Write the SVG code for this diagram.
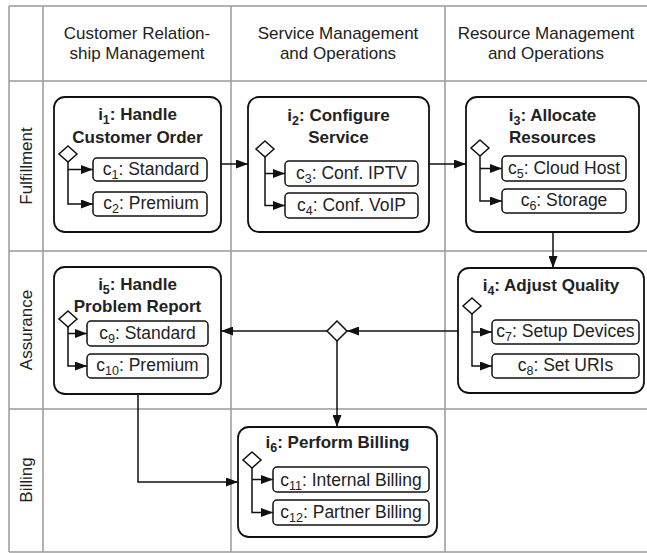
<svg xmlns="http://www.w3.org/2000/svg" width="647" height="553" viewBox="0 0 647 553">
<style>
text{font-family:"Liberation Sans",Arial,sans-serif;font-size:17px;fill:#222}
.hdr{text-anchor:middle}
.lane{text-anchor:middle}
.ttl{font-weight:bold;text-anchor:middle}
.ct{text-anchor:middle;font-size:17.5px}
.sub{font-size:12.5px}
.grid{stroke:#9a9a9a;stroke-width:1.5;fill:none}
.node{fill:#fff;stroke:#111;stroke-width:1.8}
.cbox{fill:#fff;stroke:#111;stroke-width:1.5}
.gw{fill:#fff;stroke:#111;stroke-width:1.5}
.ln{fill:none;stroke:#111;stroke-width:1.5}
</style>
<defs>
<marker id="arr" viewBox="0 0 12 9" refX="12" refY="4.5" markerWidth="12" markerHeight="9" markerUnits="userSpaceOnUse" orient="auto">
<path d="M0,0 L12,4.5 L0,9 z" fill="#111"/>
</marker>
</defs>
<rect width="647" height="553" fill="#fff"/>
<g id="grid">
<path class="grid" d="M9,6 H647 M9,81 H647 M9,251 H647 M9,409 H647 M9,552 H647 M9,6 V552 M43,6 V552 M231,6 V552 M445,6 V552"/>
<text class="hdr" x="137" y="39">Customer Relation-</text>
<text class="hdr" x="137" y="59">ship Management</text>
<text class="hdr" x="338" y="39">Service Management</text>
<text class="hdr" x="338" y="59">and Operations</text>
<text class="hdr" x="546" y="39">Resource Management</text>
<text class="hdr" x="546" y="59">and Operations</text>
<text class="lane" transform="translate(32,166) rotate(-90)">Fulfillment</text>
<text class="lane" transform="translate(32,330) rotate(-90)">Assurance</text>
<text class="lane" transform="translate(32,480) rotate(-90)">Billing</text>
</g>
<g id="i1">
<rect class="node" x="54" y="97" width="167" height="135" rx="11"/>
<text class="ttl" x="137.5" y="120">i<tspan class="sub" dy="4">1</tspan><tspan dy="-4">: Handle</tspan></text>
<text class="ttl" x="137.5" y="143">Customer Order</text>
<path class="ln" d="M68,162 V204 H93" marker-end="url(#arr)"/>
<path class="ln" d="M68,169.5 H93" marker-end="url(#arr)"/>
<path class="gw" d="M68,146 L77,154 L68,162 L59,154 z"/>
<rect class="cbox" x="93" y="158" width="114" height="23" rx="4"/>
<text class="ct" x="151" y="175">c<tspan class="sub" dy="4">1</tspan><tspan dy="-4">: Standard</tspan></text>
<rect class="cbox" x="93" y="192" width="114" height="24" rx="4"/>
<text class="ct" x="151" y="209">c<tspan class="sub" dy="4">2</tspan><tspan dy="-4">: Premium</tspan></text>
</g>
<g id="i2">
<rect class="node" x="248" y="97" width="181" height="135" rx="11"/>
<text class="ttl" x="338.5" y="121">i<tspan class="sub" dy="4">2</tspan><tspan dy="-4">: Configure</tspan></text>
<text class="ttl" x="338.5" y="143">Service</text>
<path class="ln" d="M265,157 V205.5 H285" marker-end="url(#arr)"/>
<path class="ln" d="M265,173.5 H285" marker-end="url(#arr)"/>
<path class="gw" d="M265,141 L274,149 L265,157 L256,149 z"/>
<rect class="cbox" x="285" y="161" width="133" height="25" rx="4"/>
<text class="ct" x="351.5" y="179">c<tspan class="sub" dy="4">3</tspan><tspan dy="-4">: Conf. IPTV</tspan></text>
<rect class="cbox" x="285" y="193" width="133" height="25" rx="4"/>
<text class="ct" x="351.5" y="211">c<tspan class="sub" dy="4">4</tspan><tspan dy="-4">: Conf. VoIP</tspan></text>
</g>
<g id="i3">
<rect class="node" x="466" y="97" width="173" height="135" rx="11"/>
<text class="ttl" x="552.5" y="121">i<tspan class="sub" dy="4">3</tspan><tspan dy="-4">: Allocate</tspan></text>
<text class="ttl" x="552.5" y="143">Resources</text>
<path class="ln" d="M480,156 V201 H502" marker-end="url(#arr)"/>
<path class="ln" d="M480,168.5 H502" marker-end="url(#arr)"/>
<path class="gw" d="M480,140 L489,148 L480,156 L471,148 z"/>
<rect class="cbox" x="502" y="156" width="124" height="25" rx="4"/>
<text class="ct" x="564" y="174">c<tspan class="sub" dy="4">5</tspan><tspan dy="-4">: Cloud Host</tspan></text>
<rect class="cbox" x="502" y="189" width="124" height="24" rx="4"/>
<text class="ct" x="564" y="206">c<tspan class="sub" dy="4">6</tspan><tspan dy="-4">: Storage</tspan></text>
</g>
<g id="i4">
<rect class="node" x="458" y="268" width="186" height="125" rx="11"/>
<text class="ttl" x="551" y="291">i<tspan class="sub" dy="4">4</tspan><tspan dy="-4">: Adjust Quality</tspan></text>
<path class="ln" d="M472,314 V366 H492" marker-end="url(#arr)"/>
<path class="ln" d="M472,332 H492" marker-end="url(#arr)"/>
<path class="gw" d="M472,298 L481,306 L472,314 L463,306 z"/>
<rect class="cbox" x="492" y="320" width="147" height="24" rx="4"/>
<text class="ct" x="565.5" y="337">c<tspan class="sub" dy="4">7</tspan><tspan dy="-4">: Setup Devices</tspan></text>
<rect class="cbox" x="492" y="354" width="147" height="24" rx="4"/>
<text class="ct" x="565.5" y="371">c<tspan class="sub" dy="4">8</tspan><tspan dy="-4">: Set URIs</tspan></text>
</g>
<g id="i5">
<rect class="node" x="54" y="267" width="167" height="127" rx="11"/>
<text class="ttl" x="137.5" y="290">i<tspan class="sub" dy="4">5</tspan><tspan dy="-4">: Handle</tspan></text>
<text class="ttl" x="137.5" y="312">Problem Report</text>
<path class="ln" d="M68,327 V366 H87" marker-end="url(#arr)"/>
<path class="ln" d="M68,333.5 H87" marker-end="url(#arr)"/>
<path class="gw" d="M68,311 L77,319 L68,327 L59,319 z"/>
<rect class="cbox" x="87" y="321" width="121" height="25" rx="4"/>
<text class="ct" x="147.5" y="339">c<tspan class="sub" dy="4">9</tspan><tspan dy="-4">: Standard</tspan></text>
<rect class="cbox" x="87" y="354" width="121" height="24" rx="4"/>
<text class="ct" x="147.5" y="371">c<tspan class="sub" dy="4">10</tspan><tspan dy="-4">: Premium</tspan></text>
</g>
<g id="i6">
<rect class="node" x="238" y="427" width="199" height="110" rx="11"/>
<text class="ttl" x="337.5" y="448">i<tspan class="sub" dy="4">6</tspan><tspan dy="-4">: Perform Billing</tspan></text>
<path class="ln" d="M252,468 V512.5 H273" marker-end="url(#arr)"/>
<path class="ln" d="M252,479.5 H273" marker-end="url(#arr)"/>
<path class="gw" d="M252,452 L261,460 L252,468 L243,460 z"/>
<rect class="cbox" x="273" y="467" width="156" height="25" rx="4"/>
<text class="ct" x="351" y="486">c<tspan class="sub" dy="4">11</tspan><tspan dy="-4">: Internal Billing</tspan></text>
<rect class="cbox" x="273" y="500" width="156" height="25" rx="4"/>
<text class="ct" x="351" y="518">c<tspan class="sub" dy="4">12</tspan><tspan dy="-4">: Partner Billing</tspan></text>
</g>
<g id="gateway">
<path class="gw" d="M337,321 L347,331 L337,341 L327,331 z"/>
</g>
<g id="connectors">
<path class="ln" d="M221,164 H248" marker-end="url(#arr)"/>
<path class="ln" d="M429,164 H466" marker-end="url(#arr)"/>
<path class="ln" d="M553,232 V268" marker-end="url(#arr)"/>
<path class="ln" d="M458,331 H347" marker-end="url(#arr)"/>
<path class="ln" d="M327,331 H221" marker-end="url(#arr)"/>
<path class="ln" d="M337,341 V427" marker-end="url(#arr)"/>
<path class="ln" d="M138,394 V482 H238" marker-end="url(#arr)"/>
</g>
</svg>
